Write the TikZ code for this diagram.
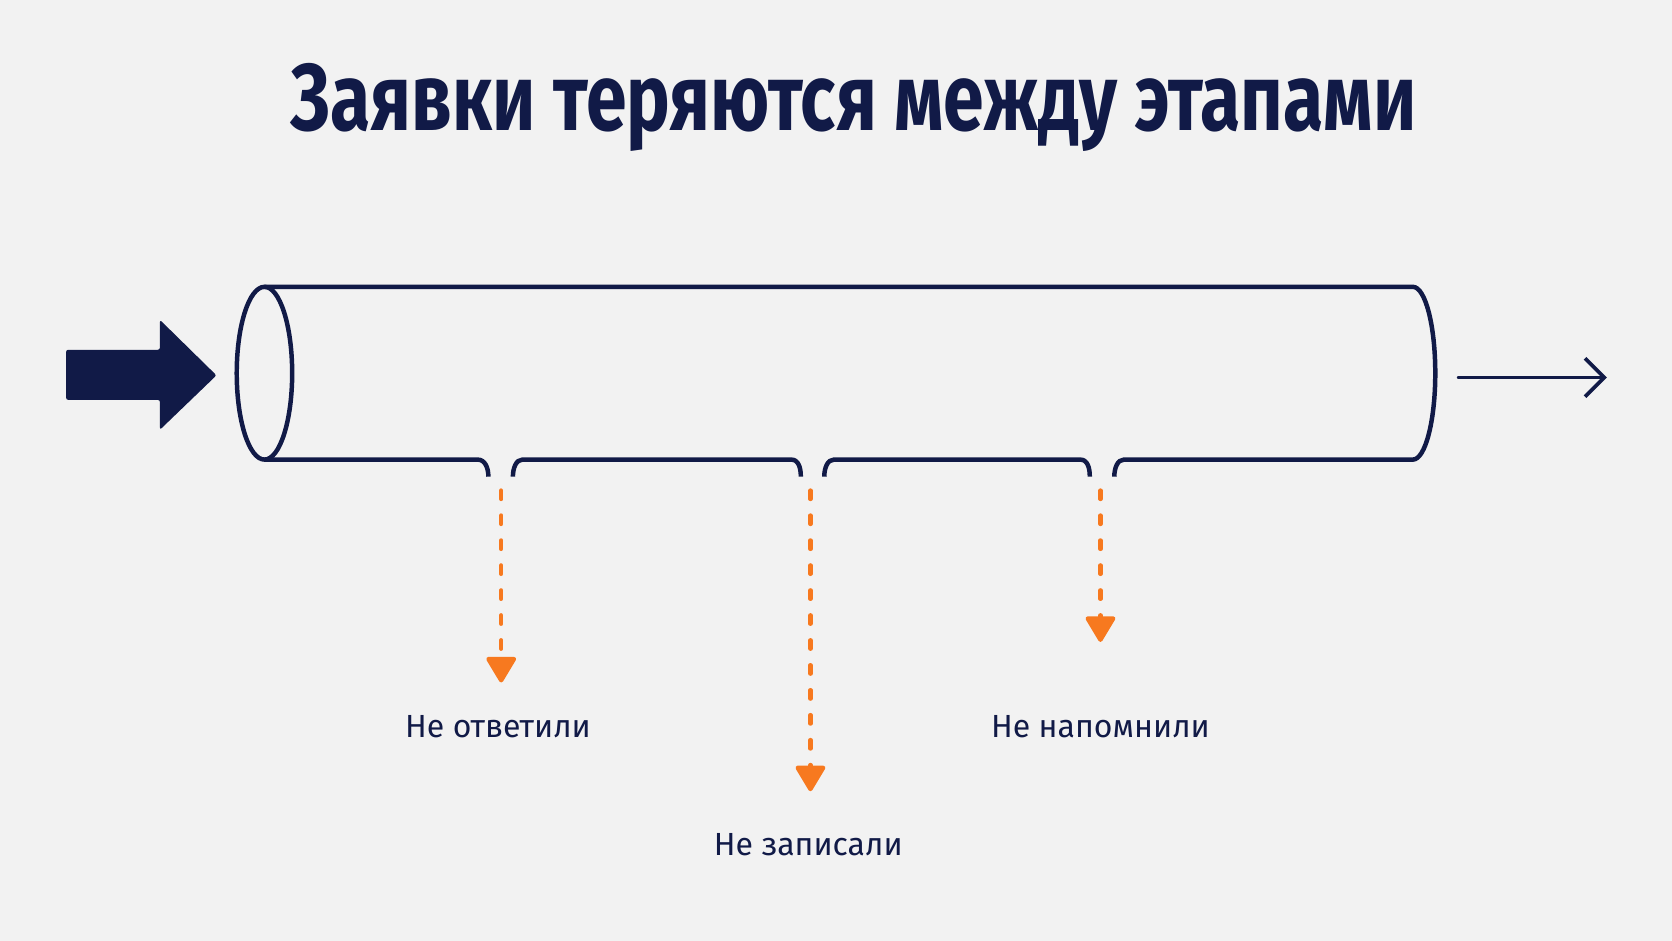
\documentclass[tikz,border=0pt]{standalone}
\usepackage{fontspec}
\setmainfont{Fira Sans}
\usetikzlibrary{arrows.meta,positioning}
\definecolor{navy}{HTML}{111A47}
\definecolor{leak}{HTML}{F7791F}
\definecolor{paper}{HTML}{F2F2F2}

\begin{document}
\begin{tikzpicture}[x=0.5pt,y=-0.5pt]
\fill[paper] (0,0) rectangle (1568,882);
\useasboundingbox (0,0) rectangle (1568,882);

\node[anchor=base west,inner sep=0,text=navy] (title) at (272,122)
  {\resizebox{528pt}{31.5pt}{\bfseries Заявки теряются между этапами}};

% input arrow
\fill[navy,rounded corners=1pt] (62,328) -- (150,328) -- (150,300) -- (203,352)
   -- (150,403) -- (150,375) -- (62,375) -- cycle;

% pipe
\begin{scope}[draw=navy,line width=2.1pt]
  \draw (248,350) ellipse [x radius=26,y radius=81];
  \draw (1045,447) .. controls (1045,439) and (1048,431) .. (1054,431) -- (1325,431)
     arc [start angle=90,end angle=-90,x radius=21,y radius=81] -- (248,269);
  \draw (248,431) -- (448,431) .. controls (455,431) and (458,439) .. (458,447);
  \draw (481,447) .. controls (481,439) and (484,431) .. (490,431) -- (742,431)
     .. controls (749,431) and (751,439) .. (751,447);
  \draw (773,447) .. controls (773,439) and (776,431) .. (782,431) -- (1013,431)
     .. controls (1020,431) and (1022,439) .. (1022,447);
\end{scope}

% output arrow
\coordinate (out0) at (1368,354);
\coordinate (out1) at (1507,354);
\draw[navy,line width=1.8pt,line cap=round,-{Straight Barb[length=9pt,width=18pt]}] (out0) -- (out1);

% leaks
\coordinate (g1) at (470,460);  \coordinate (d1) at (470,640);
\coordinate (g2) at (760,460);  \coordinate (d2) at (760,742);
\coordinate (g3) at (1032,460); \coordinate (d3) at (1032,602);
\begin{scope}[every edge/.style={draw=leak,line width=2pt,line cap=round,
                dash pattern=on 4pt off 7.7pt,
                -{Triangle[length=13pt,width=15pt,round]}}]
    \path (g1) edge (d1);
    \path (g2) edge (d2);
    \path (g3) edge (d3);
\end{scope}

\begin{scope}[every node/.style={text=navy,font=\fontsize{15}{18}\selectfont}]
    \node (lost1) at (467,681) {Не ответили};
    \node (lost2) at (758,792) {Не записали};
    \node (lost3) at (1032,681) {Не напомнили};
\end{scope}
\end{tikzpicture}
\end{document}
